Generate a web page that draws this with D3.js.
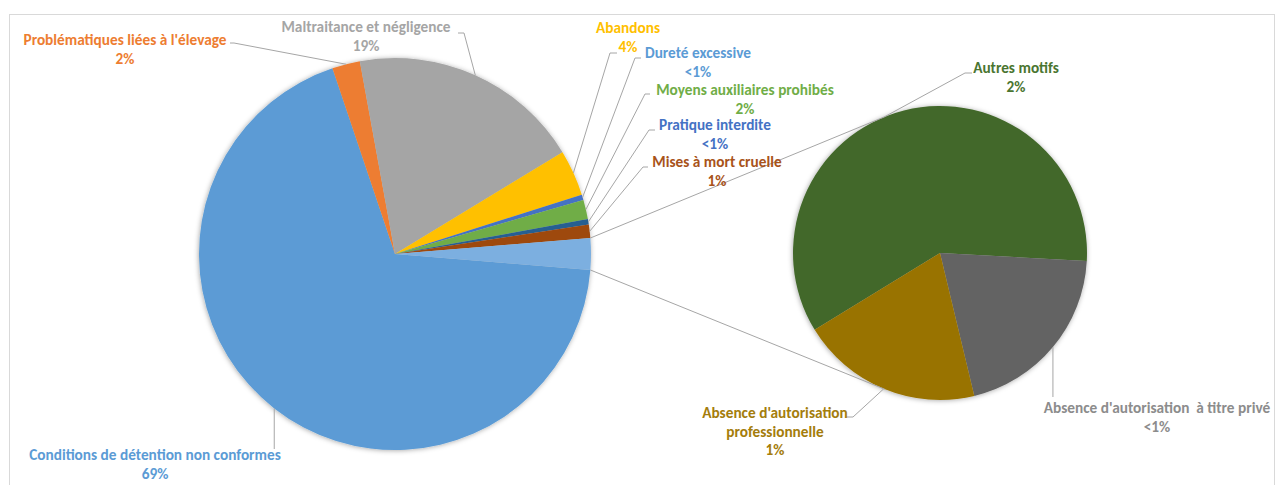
<!DOCTYPE html>
<html>
<head>
<meta charset="utf-8">
<script src="https://cdn.jsdelivr.net/npm/d3@7"></script>
<style>
  html, body { margin: 0; padding: 0; background: #ffffff; }
  svg { display: block; }
  text { font-family: Carlito, Lato, "Open Sans", sans-serif; font-weight: 700; font-size: 15.3px; }
</style>
</head>
<body>
<div id="chart"></div>
<script>
// ---------------- DATA ----------------
const mainCategories = [
  "Conditions de détention non conformes",
  "Problématiques liées à l'élevage",
  "Maltraitance et négligence",
  "Abandons",
  "Dureté excessive",
  "Moyens auxiliaires prohibés",
  "Pratique interdite",
  "Mises à mort cruelle"
];
const mainValues = [68.6, 2.3, 19.2, 3.8, 0.45, 1.6, 0.45, 1.1];
const mainPctLabels = ["69%", "2%", "19%", "4%", "<1%", "2%", "<1%", "1%"];

const subCategories = [
  "Autres motifs",
  "Absence d'autorisation  à titre privé",
  "Absence d'autorisation professionnelle"
];
const subValues = [1.55, 0.53, 0.52];
const subPctLabels = ["2%", "<1%", "1%"];

// ---------------- STYLE ----------------
const mainColors = ["#5b9bd5", "#ed7d31", "#a5a5a5", "#ffc000", "#4472c4", "#70ad47", "#255e91", "#9e480e"];
const otherColor = "#7cafe0";
const subColors = ["#43682b", "#636363", "#997300"];
const mainLabelColors = ["#5b9bd5", "#ed7d31", "#a5a5a5", "#ffc000", "#5b9bd5", "#70ad47", "#4472c4", "#a8531a"];
const subLabelColors = ["#4a7530", "#8c8c8c", "#a47d0c"];
const lineColor = "#a6a6a6";

// ---------------- LAYOUT ----------------
const W = 1279, H = 485;
const mainGeo = { cx: 395, cy: 254, r: 196 };
const subGeo = { cx: 940, cy: 253, r: 147 };
const subStartDeg = 238.5;
const lineH = 18.5;

// label boxes: text centre x, first line centre y, leader elbow/end points, optional line break
const mainLabelLayout = [
  { x: 155, y: 455, leader: "down", downTo: 449 },
  { x: 125, y: 40, elbow: [234, 43], end: [230, 43] },
  { x: 366, y: 27, elbow: [464, 33], end: [458, 33] },
  { x: 628, y: 28, elbow: [610, 53], end: [617, 53] },
  { x: 698, y: 53, elbow: [635, 58], end: [641, 58] },
  { x: 745, y: 90, elbow: [645, 94], end: [650, 94] },
  { x: 715, y: 125, elbow: [649, 130], end: [655, 130] },
  { x: 717, y: 162, elbow: [643, 167], end: [648, 167] }
];
const subLabelLayout = [
  { x: 1016, y: 68, fromTangent: true, elbow: [965, 73], end: [972, 73] },
  { x: 1157, y: 408, leader: "down", downTo: 397 },
  { x: 775, y: 413, elbow: [853, 417], end: [846, 417], breakAt: 22 }
];

const svg = d3.select("#chart").append("svg").attr("width", W).attr("height", H);

const defs = svg.append("defs");
const f = defs.append("filter").attr("id", "shadow").attr("x", "-10%").attr("y", "-10%").attr("width", "120%").attr("height", "120%");
f.append("feDropShadow").attr("dx", -0.5).attr("dy", 0.5).attr("stdDeviation", 2.5)
  .attr("flood-color", "#000").attr("flood-opacity", 0.35);

// chart border
svg.append("rect").attr("x", 9.5).attr("y", 14.5).attr("width", 1265).attr("height", 490)
  .attr("fill", "#fff").attr("stroke", "#d9d9d9").attr("stroke-width", 1);

// ---------------- MAIN PIE ----------------
const otherValue = d3.sum(subValues);
const mainData = mainValues.map((v, i) => ({ name: mainCategories[i], value: v, pct: mainPctLabels[i], color: mainColors[i], labelColor: mainLabelColors[i], layout: mainLabelLayout[i] }))
  .concat([{ name: "Autre", value: otherValue, color: otherColor, other: true }]);
const total = d3.sum(mainData, d => d.value);
const otherSpan = otherValue / total * 2 * Math.PI;
const mainStart = Math.PI / 2 + otherSpan / 2;
const mainPie = d3.pie().sort(null).value(d => d.value).startAngle(mainStart).endAngle(mainStart + 2 * Math.PI);
const mainArcs = mainPie(mainData);
const mainArc = d3.arc().innerRadius(0).outerRadius(mainGeo.r);

const gMain = svg.append("g").attr("transform", `translate(${mainGeo.cx},${mainGeo.cy})`).attr("filter", "url(#shadow)");
gMain.selectAll("path").data(mainArcs).join("path").attr("d", mainArc).attr("fill", d => d.data.color);

// ---------------- SUB PIE ----------------
const subData = subValues.map((v, i) => ({ name: subCategories[i], value: v, pct: subPctLabels[i], color: subColors[i], labelColor: subLabelColors[i], layout: subLabelLayout[i] }));
const subStart = subStartDeg * Math.PI / 180;
const subPie = d3.pie().sort(null).value(d => d.value).startAngle(subStart).endAngle(subStart + 2 * Math.PI);
const subArcs = subPie(subData);
const subArc = d3.arc().innerRadius(0).outerRadius(subGeo.r);
const gSub = svg.append("g").attr("transform", `translate(${subGeo.cx},${subGeo.cy})`).attr("filter", "url(#shadow)");
gSub.selectAll("path").data(subArcs).join("path").attr("d", subArc).attr("fill", d => d.data.color);

// ---------------- HELPERS ----------------
function pt(geo, a, r) {
  r = r === undefined ? geo.r : r;
  return [geo.cx + r * Math.sin(a), geo.cy - r * Math.cos(a)];
}
const lines = svg.append("g").attr("fill", "none").attr("stroke", lineColor).attr("stroke-width", 1);
const line = d3.line();

// series lines: tangents from the "other" slice corners to the secondary pie
const otherArc = mainArcs[mainArcs.length - 1];
function tangents(P, geo) {
  const dx = P[0] - geo.cx, dy = P[1] - geo.cy;
  const d = Math.hypot(dx, dy);
  const th = Math.atan2(dy, dx), al = Math.acos(geo.r / d);
  const t1 = [geo.cx + geo.r * Math.cos(th + al), geo.cy + geo.r * Math.sin(th + al)];
  const t2 = [geo.cx + geo.r * Math.cos(th - al), geo.cy + geo.r * Math.sin(th - al)];
  return t1[1] < t2[1] ? { top: t1, bottom: t2 } : { top: t2, bottom: t1 };
}
const cA = pt(mainGeo, otherArc.startAngle), cB = pt(mainGeo, otherArc.endAngle);
const topCorner = cA[1] < cB[1] ? cA : cB, botCorner = cA[1] < cB[1] ? cB : cA;
const tTop = tangents(topCorner, subGeo).top;
const tBot = tangents(botCorner, subGeo).bottom;
lines.append("path").attr("d", line([topCorner, tTop]));
lines.append("path").attr("d", line([botCorner, tBot]));

// ---------------- LABELS ----------------
const labels = svg.append("g").attr("text-anchor", "middle");
function drawLabel(d, geo, isSub) {
  const L = d.data.layout;
  const a = (d.startAngle + d.endAngle) / 2;
  const start = (isSub && L.fromTangent) ? tTop : pt(geo, a);
  let pts;
  if (L.leader === "down") pts = [start, [start[0], L.downTo]];
  else pts = [start, L.elbow, L.end];
  lines.append("path").attr("d", line(pts));

  let nameLines = [d.data.name];
  if (L.breakAt) nameLines = [d.data.name.slice(0, L.breakAt), d.data.name.slice(L.breakAt + 1)];
  const all = nameLines.concat([d.data.pct]);
  const t = labels.append("text").attr("fill", d.data.labelColor).attr("xml:space", "preserve").style("white-space", "pre");
  all.forEach((s, i) => {
    t.append("tspan").attr("x", L.x).attr("y", L.y + i * lineH).attr("dy", "0.35em").text(s);
  });
}
mainArcs.filter(d => !d.data.other).forEach(d => drawLabel(d, mainGeo, false));
subArcs.forEach(d => drawLabel(d, subGeo, true));
</script>
</body>
</html>
